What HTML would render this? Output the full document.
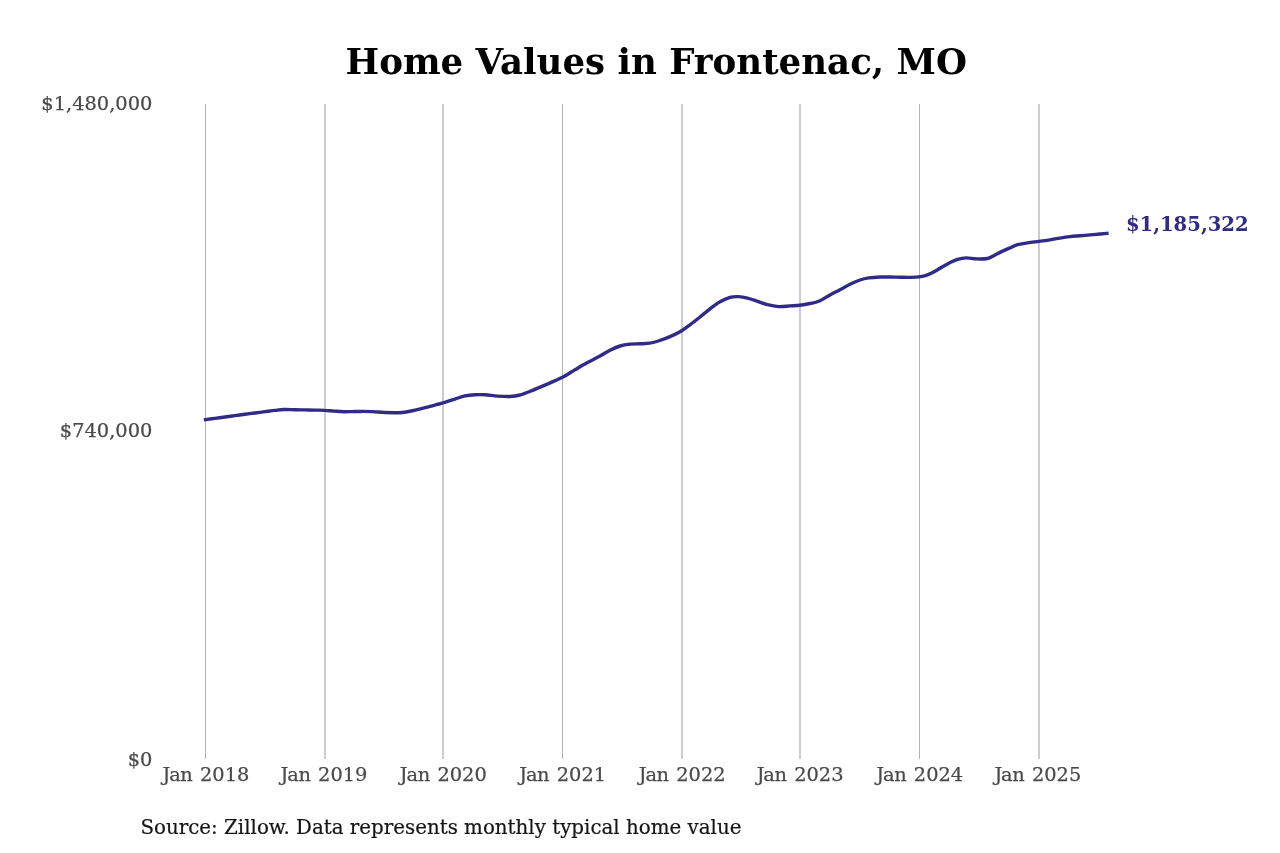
<!DOCTYPE html>
<html><head><meta charset="utf-8"><title>Home Values in Frontenac, MO</title>
<style>
html,body{margin:0;padding:0;background:#fff;}
body{width:1280px;height:853px;overflow:hidden;}
svg{display:block;font-family:"DejaVu Serif","Liberation Serif",serif;}
.title{font-weight:bold;font-size:35.6px;fill:#000;text-anchor:middle;}
.grid line{stroke:#b2b2b2;}
.xl text{font-size:19.4px;fill:#4a4a4a;stroke:#4a4a4a;stroke-width:0.25px;text-anchor:middle;}
.yl text{font-size:19.4px;fill:#4a4a4a;stroke:#4a4a4a;stroke-width:0.25px;text-anchor:end;}
.src{font-size:19.83px;fill:#151515;stroke:#151515;stroke-width:0.2px;}
.end{font-size:19.6px;font-weight:bold;fill:#302b87;}
.ln{fill:none;stroke:#302b87;stroke-width:3.4;stroke-linejoin:round;stroke-linecap:square;}
</style></head>
<body>
<svg width="1280" height="853" viewBox="0 0 1280 853">
<rect width="1280" height="853" fill="#ffffff"/>
<text class="title" x="656.3" y="74.3">Home Values in Frontenac, MO</text>
<g class="grid">
<line x1="205.5" y1="104" x2="205.5" y2="759" stroke-width="1.0" />
<line x1="325.0" y1="104" x2="325.0" y2="759" stroke-width="1.3" />
<line x1="443.0" y1="104" x2="443.0" y2="759" stroke-width="1.3" />
<line x1="562.5" y1="104" x2="562.5" y2="759" stroke-width="1.0" />
<line x1="682.0" y1="104" x2="682.0" y2="759" stroke-width="1.3" />
<line x1="800.0" y1="104" x2="800.0" y2="759" stroke-width="1.3" />
<line x1="919.5" y1="104" x2="919.5" y2="759" stroke-width="1.0" />
<line x1="1039.0" y1="104" x2="1039.0" y2="759" stroke-width="1.3" />
</g>
<g class="yl">
<text x="152.4" y="109.8">$1,480,000</text>
<text x="152.4" y="436.9">$740,000</text>
<text x="152.4" y="766.4">$0</text>
</g>
<g class="xl">
<text x="205.40" y="781.0" dx="0.5 -1.1 -0.4 0 1.0">Jan 2018</text>
<text x="323.50" y="781.0" dx="0.5 -1.1 -0.4 0 1.0">Jan 2019</text>
<text x="442.80" y="781.0" dx="0.5 -1.1 -0.4 0 1.0">Jan 2020</text>
<text x="562.15" y="781.0" dx="0.5 -1.1 -0.4 0 1.0">Jan 2021</text>
<text x="681.70" y="781.0" dx="0.5 -1.1 -0.4 0 1.0">Jan 2022</text>
<text x="799.60" y="781.0" dx="0.5 -1.1 -0.4 0 1.0">Jan 2023</text>
<text x="919.25" y="781.0" dx="0.5 -1.1 -0.4 0 1.0">Jan 2024</text>
<text x="1037.35" y="781.0" dx="0.5 -1.1 -0.4 0 1.0">Jan 2025</text>
</g>
<path class="ln" d="M205.50,419.60 C207.08,419.39 211.75,418.74 215.00,418.31 C218.25,417.88 221.67,417.47 225.00,417.03 C228.33,416.58 231.67,416.10 235.00,415.64 C238.33,415.18 241.67,414.70 245.00,414.25 C248.33,413.81 251.67,413.40 255.00,412.97 C258.33,412.54 261.67,412.11 265.00,411.68 C268.33,411.25 271.88,410.76 275.00,410.39 C278.12,410.03 280.42,409.62 283.75,409.50 C287.08,409.39 291.46,409.64 295.00,409.70 C298.54,409.77 301.67,409.84 305.00,409.91 C308.33,409.98 311.73,410.03 315.00,410.11 C318.27,410.19 321.43,410.20 324.60,410.36 C327.77,410.53 330.81,410.89 334.00,411.12 C337.19,411.34 340.75,411.64 343.75,411.72 C346.75,411.80 349.29,411.67 352.00,411.62 C354.71,411.57 356.58,411.43 360.00,411.43 C363.42,411.42 368.33,411.39 372.50,411.58 C376.67,411.76 380.00,412.39 385.00,412.53 C390.00,412.68 397.29,412.88 402.50,412.44 C407.71,412.00 411.67,410.90 416.25,409.89 C420.83,408.89 425.52,407.56 430.00,406.40 C434.48,405.24 438.93,404.15 443.10,402.93 C447.27,401.70 451.35,400.19 455.00,399.02 C458.65,397.86 461.67,396.66 465.00,395.96 C468.33,395.25 471.67,394.99 475.00,394.80 C478.33,394.61 481.25,394.58 485.00,394.80 C488.75,395.02 493.33,395.82 497.50,396.10 C501.67,396.38 506.25,396.68 510.00,396.50 C513.75,396.32 516.25,396.02 520.00,395.00 C523.75,393.98 528.33,392.05 532.50,390.40 C536.67,388.75 540.00,387.28 545.00,385.10 C550.00,382.92 557.50,379.85 562.50,377.30 C567.50,374.75 570.83,372.25 575.00,369.80 C579.17,367.35 583.33,364.88 587.50,362.60 C591.67,360.32 596.25,358.17 600.00,356.10 C603.75,354.03 606.67,351.88 610.00,350.20 C613.33,348.52 616.67,347.01 620.00,346.00 C623.33,344.99 626.67,344.52 630.00,344.15 C633.33,343.78 636.67,343.97 640.00,343.80 C643.33,343.63 646.67,343.72 650.00,343.15 C653.33,342.58 656.67,341.48 660.00,340.40 C663.33,339.32 666.67,338.08 670.00,336.65 C673.33,335.22 676.67,333.77 680.00,331.80 C683.33,329.82 686.67,327.27 690.00,324.80 C693.33,322.33 696.67,319.67 700.00,317.00 C703.33,314.33 706.67,311.33 710.00,308.80 C713.33,306.27 716.67,303.72 720.00,301.80 C723.33,299.88 726.88,298.16 730.00,297.30 C733.12,296.44 735.83,296.51 738.75,296.65 C741.67,296.79 744.38,297.38 747.50,298.15 C750.62,298.92 754.17,300.21 757.50,301.30 C760.83,302.39 763.96,303.82 767.50,304.70 C771.04,305.58 775.00,306.40 778.75,306.60 C782.50,306.80 786.46,306.13 790.00,305.90 C793.54,305.67 796.67,305.60 800.00,305.20 C803.33,304.80 806.88,304.15 810.00,303.50 C813.12,302.85 815.42,302.72 818.75,301.30 C822.08,299.88 826.46,296.93 830.00,295.00 C833.54,293.07 836.67,291.48 840.00,289.70 C843.33,287.92 846.67,285.92 850.00,284.30 C853.33,282.68 856.88,281.07 860.00,280.00 C863.12,278.93 865.42,278.40 868.75,277.90 C872.08,277.40 876.46,277.15 880.00,277.00 C883.54,276.85 886.67,276.96 890.00,277.00 C893.33,277.04 896.67,277.18 900.00,277.25 C903.33,277.32 906.83,277.46 910.00,277.40 C913.17,277.34 916.08,277.33 919.00,276.90 C921.92,276.47 924.42,275.98 927.50,274.80 C930.58,273.62 934.17,271.62 937.50,269.80 C940.83,267.98 944.17,265.63 947.50,263.90 C950.83,262.17 954.38,260.40 957.50,259.40 C960.62,258.40 963.12,257.98 966.25,257.90 C969.38,257.82 972.71,258.80 976.25,258.90 C979.79,259.00 984.38,259.15 987.50,258.50 C990.62,257.85 992.92,256.02 995.00,255.00 C997.08,253.98 997.71,253.49 1000.00,252.40 C1002.29,251.31 1005.83,249.72 1008.75,248.43 C1011.67,247.15 1014.38,245.58 1017.50,244.67 C1020.62,243.75 1023.92,243.50 1027.50,242.94 C1031.08,242.39 1035.25,241.88 1039.00,241.36 C1042.75,240.84 1046.50,240.38 1050.00,239.84 C1053.50,239.29 1056.67,238.60 1060.00,238.07 C1063.33,237.54 1066.67,237.04 1070.00,236.66 C1073.33,236.28 1076.67,236.08 1080.00,235.79 C1083.33,235.50 1086.67,235.23 1090.00,234.93 C1093.33,234.63 1097.18,234.27 1100.00,234.01 C1102.82,233.76 1105.75,233.51 1106.90,233.40"/>
<text class="end" x="1125.9" y="231.4">$1,185,322</text>
<text class="src" x="140.5" y="834.3">Source: Zillow. Data represents monthly typical home value</text>
</svg>
</body></html>
